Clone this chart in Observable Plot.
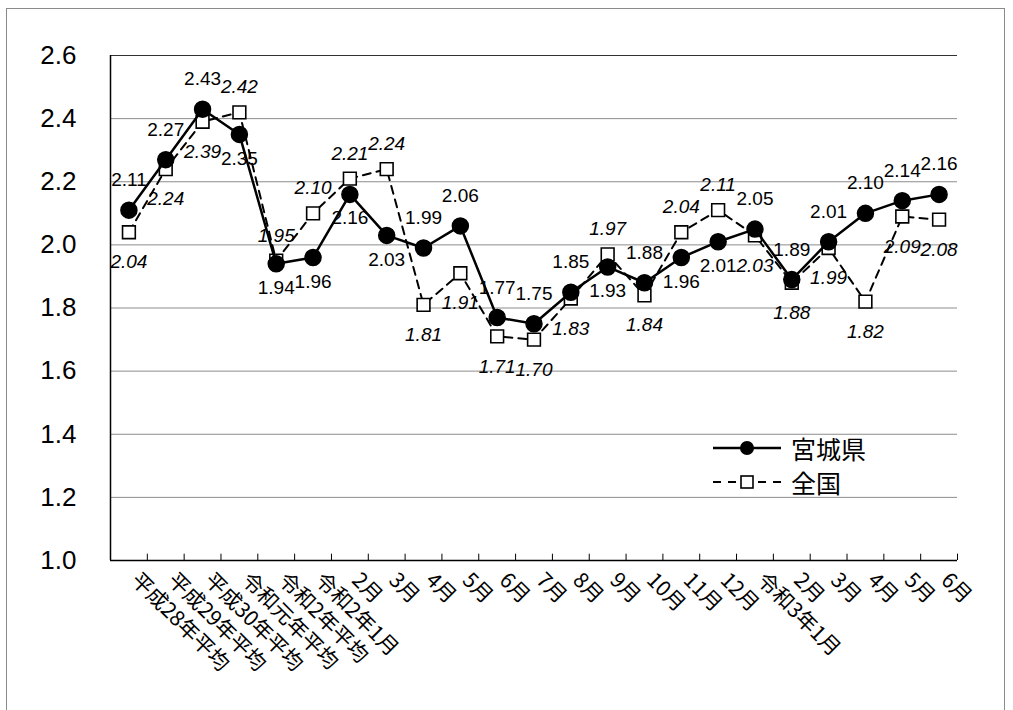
<!DOCTYPE html>
<html>
<head>
<meta charset="utf-8">
<script src="https://cdn.jsdelivr.net/npm/d3@7"></script>
<script src="https://cdn.jsdelivr.net/npm/@observablehq/plot@0.6"></script>
<style>
  html, body { margin: 0; padding: 0; background: #fff; }
  #wrap { position: relative; width: 1013px; height: 710px; overflow: hidden;
          font-family: "Liberation Sans", "Noto Sans CJK JP", sans-serif; }
  #border { position: absolute; left: 6px; top: 8px; width: 999px; height: 720px;
            border: 1px solid #8a8a8a; box-sizing: border-box; pointer-events: none; }
  #chart { position: absolute; left: 0; top: 0; }
  #legend { position: absolute; left: 713px; top: 431px; font-size: 25px; line-height: 34px; color: #000; }
  #legend .row { display: flex; align-items: center; height: 34px; }
  #legend svg { margin-right: 8px; }
</style>
</head>
<body>
<div id="wrap">
  <div id="border"></div>
  <div id="chart"></div>
  <div id="legend"></div>
</div>
<script>
const categories = ["平成28年平均","平成29年平均","平成30年平均","令和元年平均","令和2年平均","令和2年1月","2月","3月","4月","5月","6月","7月","8月","9月","10月","11月","12月","令和3年1月","2月","3月","4月","5月","6月"];
const miyagi   = [2.11, 2.27, 2.43, 2.35, 1.94, 1.96, 2.16, 2.03, 1.99, 2.06, 1.77, 1.75, 1.85, 1.93, 1.88, 1.96, 2.01, 2.05, 1.89, 2.01, 2.10, 2.14, 2.16];
const national = [2.04, 2.24, 2.39, 2.42, 1.95, 2.10, 2.21, 2.24, 1.81, 1.91, 1.71, 1.70, 1.83, 1.97, 1.84, 2.04, 2.11, 2.03, 1.88, 1.99, 1.82, 2.09, 2.08];
const seriesNames = ["宮城県", "全国"];
const yTicks = [1.0, 1.2, 1.4, 1.6, 1.8, 2.0, 2.2, 2.4, 2.6];

const rows = categories.map((c, i) => ({i, c, miyagi: miyagi[i], national: national[i]}));
const boundaries = d3.range(categories.length + 1).map(k => k - 0.5);
const yMin = yTicks[0], yMax = yTicks[yTicks.length - 1];
const fmt2 = d3.format(".2f");
const fmt1 = d3.format(".1f");
const mAbove = d => d.miyagi >= d.national;

const chart = Plot.plot({
  width: 1013,
  height: 710,
  marginLeft: 110,
  marginRight: 56,
  marginTop: 55,
  marginBottom: 150,
  x: {type: "linear", domain: [-0.5, categories.length - 0.5], axis: null},
  y: {type: "linear", domain: [yMin, yMax], axis: null},
  style: {fontFamily: "'Liberation Sans', 'Noto Sans CJK JP', sans-serif", background: "transparent", color: "#000"},
  marks: [
    Plot.ruleY(yTicks.slice(1, -1), {stroke: "#8c8c8c", strokeWidth: 1}),
    Plot.ruleY([yMax], {stroke: "#333", strokeWidth: 1}),
    Plot.ruleY([yMin], {stroke: "#000", strokeWidth: 1.5}),
    Plot.ruleX([boundaries[0]], {stroke: "#000", strokeWidth: 1.5}),
    Plot.ruleX(boundaries.slice(1), {y1: yMin, y2: yMin + 0.02, stroke: "#000", strokeWidth: 1}),
    Plot.text(yTicks, {y: d => d, text: d => fmt1(d), frameAnchor: "left", dx: -34, textAnchor: "end", fontSize: 26, fill: "#000"}),
    Plot.text(rows, {x: "i", text: "c", frameAnchor: "bottom", dy: 21, dx: 1, rotate: 45, textAnchor: "start", fontSize: 21, fill: "#000",
      fontFamily: "'Noto Sans CJK JP', 'Liberation Sans', sans-serif"}),
    // 全国 (dashed, open squares)
    Plot.line(rows, {x: "i", y: "national", stroke: "#000", strokeWidth: 2, strokeDasharray: "8,6"}),
    Plot.dot(rows, {x: "i", y: "national", symbol: "square", r: 7.2, fill: "#fff", stroke: "#000", strokeWidth: 1.6}),
    // 宮城県 (solid, filled circles)
    Plot.line(rows, {x: "i", y: "miyagi", stroke: "#000", strokeWidth: 2.5}),
    Plot.dot(rows, {x: "i", y: "miyagi", r: 8, fill: "#000", stroke: "#000"}),
    // labels
    Plot.text(rows.filter(mAbove), {x: "i", y: "miyagi", text: d => fmt2(d.miyagi), dy: -30, fontSize: 19, fill: "#000"}),
    Plot.text(rows.filter(d => !mAbove(d)), {x: "i", y: "miyagi", text: d => fmt2(d.miyagi), dy: 24, fontSize: 19, fill: "#000"}),
    Plot.text(rows.filter(mAbove), {x: "i", y: "national", text: d => fmt2(d.national), dy: 30, fontSize: 19, fontStyle: "italic", fill: "#000"}),
    Plot.text(rows.filter(d => !mAbove(d)), {x: "i", y: "national", text: d => fmt2(d.national), dy: -25, fontSize: 19, fontStyle: "italic", fill: "#000"})
  ]
});
document.getElementById("chart").appendChild(chart);

// legend
const legend = document.getElementById("legend");
const samples = [
  `<svg width="70" height="20"><line x1="0" x2="68" y1="10" y2="10" stroke="#000" stroke-width="2.5"/><circle cx="34" cy="10" r="7" fill="#000"/></svg>`,
  `<svg width="70" height="20"><line x1="0" x2="68" y1="10" y2="10" stroke="#000" stroke-width="2" stroke-dasharray="8,7"/><rect x="28" y="4" width="12" height="12" fill="#fff" stroke="#000" stroke-width="1.6"/></svg>`
];
seriesNames.forEach((name, k) => {
  const row = document.createElement("div");
  row.className = "row";
  row.innerHTML = samples[k] + `<span style="font-family:'Noto Sans CJK JP',sans-serif">${name}</span>`;
  legend.appendChild(row);
});
</script>
</body>
</html>
